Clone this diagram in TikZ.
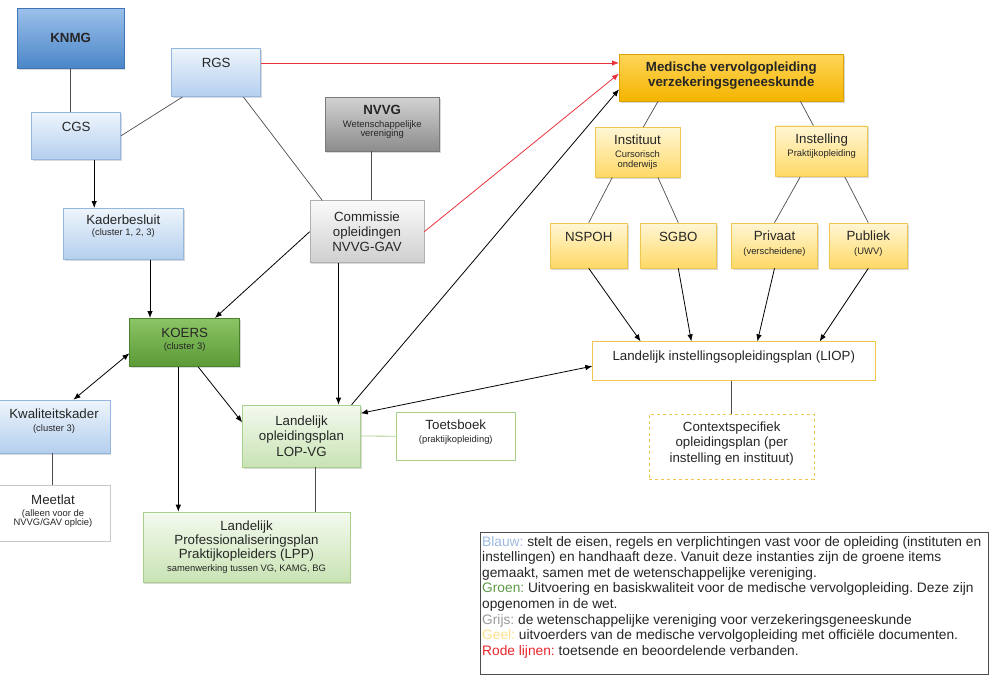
\documentclass[tikz,border=0pt]{standalone}
\usepackage{fontspec}
\setmainfont{Liberation Sans}
\usetikzlibrary{shadows,arrows.meta}
\definecolor{3f75b5}{HTML}{3F75B5}
\definecolor{9cc0ea}{HTML}{9CC0EA}
\definecolor{4a86c8}{HTML}{4A86C8}
\definecolor{eef5fc}{HTML}{EEF5FC}
\definecolor{b4cfee}{HTML}{B4CFEE}
\definecolor{95b7df}{HTML}{95B7DF}
\definecolor{d2d2d2}{HTML}{D2D2D2}
\definecolor{8c8c8c}{HTML}{8C8C8C}
\definecolor{7a7a7a}{HTML}{7A7A7A}
\definecolor{fafafa}{HTML}{FAFAFA}
\definecolor{cfcfcf}{HTML}{CFCFCF}
\definecolor{b0b0b0}{HTML}{B0B0B0}
\definecolor{ffd659}{HTML}{FFD659}
\definecolor{f4b400}{HTML}{F4B400}
\definecolor{dba200}{HTML}{DBA200}
\definecolor{fff6d5}{HTML}{FFF6D5}
\definecolor{ffd966}{HTML}{FFD966}
\definecolor{eec650}{HTML}{EEC650}
\definecolor{8cc466}{HTML}{8CC466}
\definecolor{5a9a36}{HTML}{5A9A36}
\definecolor{4a822c}{HTML}{4A822C}
\definecolor{f4faef}{HTML}{F4FAEF}
\definecolor{c9e3b4}{HTML}{C9E3B4}
\definecolor{a8cf8c}{HTML}{A8CF8C}
\definecolor{c8c8c8}{HTML}{C8C8C8}
\definecolor{4d4d4d}{HTML}{4D4D4D}
\definecolor{e8323c}{HTML}{E8323C}
\definecolor{262626}{HTML}{262626}
\definecolor{9db9e0}{HTML}{9DB9E0}
\definecolor{5e9a48}{HTML}{5E9A48}
\definecolor{9a9a9a}{HTML}{9A9A9A}
\definecolor{ffe08a}{HTML}{FFE08A}
\definecolor{e8262c}{HTML}{E8262C}
\newcommand{\kl}{\fontsize{9.4}{11}\selectfont}
\tikzset{
    doos/.style={rectangle,line width=.6pt,align=center,drop shadow={shadow xshift=1.2pt,shadow yshift=-1.5pt,opacity=.3}},
    knmgdoos/.style={doos,draw=3f75b5,top color=9cc0ea,bottom color=4a86c8},
    blauwdoos/.style={doos,draw=95b7df,top color=eef5fc,bottom color=b4cfee},
    grijsdoos/.style={doos,draw=7a7a7a,top color=d2d2d2,bottom color=8c8c8c},
    lichtgrijsdoos/.style={doos,draw=b0b0b0,top color=fafafa,bottom color=cfcfcf},
    oranjedoos/.style={doos,draw=dba200,top color=ffd659,bottom color=f4b400},
    geeldoos/.style={doos,draw=eec650,top color=fff6d5,bottom color=ffd966},
    groendoos/.style={doos,draw=4a822c,top color=8cc466,bottom color=5a9a36},
    lichtgroendoos/.style={doos,draw=a8cf8c,top color=f4faef,bottom color=c9e3b4},
    randdoos/.style={rectangle,line width=.6pt,align=center,draw=#1,fill=white},
    lijn/.style={draw=4d4d4d,line width=.7pt},
    pijl/.style={->,draw=black,line width=.8pt},
    dubbel/.style={<->,draw=black,line width=.8pt},
    rood/.style={->,draw=e8323c,line width=.8pt}
}
\begin{document}
\begin{tikzpicture}[x=1pt,y=-1pt,>={Latex[length=7pt,width=5.5pt]},every node/.style={font=\fontsize{13.3}{15.3}\selectfont,text=262626}]
    \useasboundingbox(0,0)rectangle(995,681);
    \node[knmgdoos,minimum width=106.7pt,minimum height=60pt](knmg)at(70.7,38.3){\bfseries KNMG};
    \node[blauwdoos,minimum width=89pt,minimum height=48.4pt,text depth=20pt](rgs)at(216.2,72.5){RGS};
    \node[blauwdoos,minimum width=89pt,minimum height=47pt,text depth=18pt](cgs)at(76.2,135.8){CGS};
    \node[blauwdoos,minimum width=120pt,minimum height=51pt,text depth=17.6pt](kader)at(123.3,233.8){Kaderbesluit\\[-4pt]\kl(cluster 1, 2, 3)};
    \node[grijsdoos,minimum width=114.3pt,minimum height=53.7pt,text depth=6pt](nvvg)at(382.2,124.2){\bfseries NVVG\\[-2pt]\kl Wetenschappelijke\\[-6.3pt]\kl vereniging};
    \node[lichtgrijsdoos,minimum width=114pt,minimum height=62pt](com)at(367,231.7){Commissie\\opleidingen\\NVVG-GAV};
    \node[oranjedoos,minimum width=224pt,minimum height=47pt,text depth=6.8pt](med)at(731.3,77.5){\bfseries Medische vervolgopleiding\\[-1pt]\bfseries verzekeringsgeneeskunde};
    \node[geeldoos,minimum width=85pt,minimum height=50pt](inst)at(637.5,152.3){Instituut\\[-2pt]\kl Cursorisch\\[-5.3pt]\kl onderwijs};
    \node[geeldoos,minimum width=92pt,minimum height=50.7pt,text depth=12.6pt](instel)at(821.7,151.3){Instelling\\[-2.6pt]\kl Praktijkopleiding};
    \node[geeldoos,minimum width=77.3pt,minimum height=45pt,text depth=17.4pt](nspoh)at(588.7,245.5){NSPOH};
    \node[geeldoos,minimum width=76.7pt,minimum height=45pt,text depth=17.4pt](sgbo)at(678.3,245.5){SGBO};
    \node[geeldoos,minimum width=85.6pt,minimum height=45pt,text depth=5pt](priv)at(774.5,245.5){Privaat\\[-1pt]\kl(verscheidene)};
    \node[geeldoos,minimum width=78.7pt,minimum height=45pt,text depth=5pt](pub)at(868.3,245.5){Publiek\\[-1pt]\kl(UWV)};
    \node[randdoos=eec650,minimum width=282.3pt,minimum height=39pt,text depth=11.8pt](liop)at(733.8,361.2){Landelijk instellingsopleidingsplan (LIOP)};
    \node[randdoos=eec650,dashed,minimum width=164.7pt,minimum height=65.3pt,text depth=9.2pt](ctx)at(731.7,446.7){Contextspecifiek\\opleidingsplan (per\\instelling en instituut)};
    \node[groendoos,minimum width=110pt,minimum height=48.4pt,text depth=8pt](koers)at(184.7,342.5){KOERS\\[-3pt]\kl(cluster 3)};
    \node[blauwdoos,minimum width=112pt,minimum height=53pt,text depth=13pt](kwal)at(54,426.5){Kwaliteitskader\\[-2.6pt]\kl(cluster 3)};
    \node[randdoos=c8c8c8,minimum width=114pt,minimum height=56.7pt,text depth=6pt](meet)at(53,513.3){Meetlat\\[-3pt]\kl(alleen voor de\\[-5.9pt]\kl NVVG/GAV oplcie)};
    \node[lichtgroendoos,minimum width=118pt,minimum height=62pt](lop)at(301.5,436){Landelijk\\opleidingsplan\\LOP-VG};
    \node[randdoos=a8cf8c,minimum width=119.7pt,minimum height=47.7pt,text depth=9.4pt](toets)at(455.8,436.2){Toetsboek\\[-2.3pt]\kl(praktijkopleiding)};
    \node[lichtgroendoos,minimum width=207pt,minimum height=70pt](lpp)at(246.5,547){Landelijk\\[-1.3pt]Professionaliseringsplan\\[-1.3pt]Praktijkopleiders (LPP)\\[-1.7pt]\kl samenwerking tussen VG, KAMG, BG};
    \node[draw=4d4d4d,line width=.7pt,anchor=north west,minimum width=508.5pt,minimum height=142.5pt](legenda)at(479.5,531.5){};
    \node[anchor=north west,inner sep=0,align=left,font=\fontsize{13.75}{15.57}\selectfont\frenchspacing](legendatekst)at(482,536){{\color{9db9e0}Blauw:} stelt de eisen, regels en verplichtingen vast voor de opleiding (instituten en\\instellingen) en handhaaft deze. Vanuit deze instanties zijn de groene items\\gemaakt, samen met de wetenschappelijke vereniging.\\{\color{5e9a48}Groen:} Uitvoering en basiskwaliteit voor de medische vervolgopleiding. Deze zijn\\opgenomen in de wet.\\{\color{9a9a9a}Grijs:} de wetenschappelijke vereniging voor verzekeringsgeneeskunde\\{\color{ffe08a}Geel:} uitvoerders van de medische vervolgopleiding met offici\"ele documenten.\\{\color{e8262c}Rode lijnen:} toetsende en beoordelende verbanden.};
    \draw[lijn](knmg.south)--(knmg.south|-cgs.north);
    \draw[lijn](rgs.216)--(cgs.east);
    \draw[lijn](rgs.-42)--(com.145);
    \draw[rood](rgs.12)--(rgs.12-|med.west);
    \draw[pijl]([xshift=18pt]cgs.south)--([xshift=18pt]cgs.south|-kader.north);
    \draw[pijl]([xshift=26.7pt]kader.south)--([xshift=26.7pt]kader.south|-koers.north);
    \draw[pijl](com.west)--(koers.39);
    \draw[lijn]([xshift=-10.5pt]nvvg.south)--([xshift=-10.5pt]nvvg.south|-com.north);
    \draw[rood](com.east)--(med.178);
    \draw[pijl]([xshift=-28.5pt]com.south)--([xshift=-28.5pt]com.south|-lop.north);
    \draw[pijl](lop.32)--(med.186);
    \draw[dubbel](koers.191)--(kwal.54);
    \draw[pijl](koers.-61)--(lop.167);
    \draw[pijl]([xshift=-6.4pt]koers.south)--([xshift=-6.4pt]koers.south|-lpp.north);
    \draw[lijn]([xshift=14.2pt]lop.south)--([xshift=14.2pt]lop.south|-lpp.north);
    \draw[dubbel](lop.21)--(liop.182);
    \draw[draw=a8cf8c,line width=.8pt](lop.east)--(toets.west);
    \draw[lijn]([xshift=-2pt]kwal.south)--([xshift=-2pt]kwal.south|-meet.north);
    \draw[lijn](med.198)--(inst.77);
    \draw[lijn](med.-19)--(instel.108);
    \draw[lijn](inst.-135)--(nspoh.north);
    \draw[lijn](inst.-51)--(sgbo.north);
    \draw[lijn](instel.-130)--(priv.north);
    \draw[lijn](instel.-48)--(pub.north);
    \draw[pijl](nspoh.south)--(liop.168);
    \draw[pijl](sgbo.south)--(liop.155);
    \draw[pijl](priv.south)--(liop.40);
    \draw[pijl](pub.south)--(liop.13);
    \draw[lijn](ctx.north|-liop.south)--(ctx.north);
\end{tikzpicture}
\end{document}
